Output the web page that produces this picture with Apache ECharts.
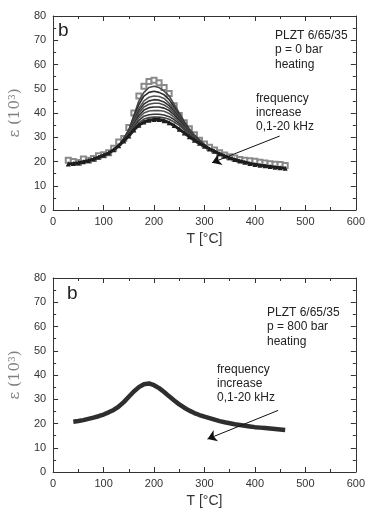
<!DOCTYPE html>
<html>
<head>
<meta charset="utf-8">
<script src="https://cdn.jsdelivr.net/npm/echarts@6/dist/echarts.min.js"></script>
<style>
  html, body { margin: 0; padding: 0; background: #fff; }
  #main { width: 368px; height: 513px; }
</style>
</head>
<body>
<div id="main"></div>
<script>
// temperatures (°C)
var tTop = [30,40,50,60,70,80,90,100,110,120,130,140,150,160,170,180,190,200,210,220,
  230,240,250,260,270,280,290,300,310,320,330,340,350,360,370,380,390,400,410,420,430,440,450,460];
var tBottom = [40,50,60,70,80,90,100,110,120,130,140,150,160,170,180,190,200,210,220,
  230,240,250,260,270,280,290,300,310,320,330,340,350,360,370,380,390,400,410,420,430,440,450,460];

// p = 0 bar, 0.1 kHz (open squares)
var epsSquares = [20.5,20,19.6,21,20.5,21.2,22.4,22.8,23.6,25.5,
  28,29.5,34,40,47,51,53,53.5,52.5,50.5,
  48,43,39,36,33.5,31,28.8,27.2,25.9,24.7,
  23.6,22.7,22,21.4,20.8,20.5,20.3,20.1,19.7,19.4,
  19.1,18.9,18.8,18.3];

// p = 0 bar, higher frequencies: common wings (30-130, 310-460) and peak part (140-300)
var lowWing = [19,19.2,19.5,19.9,20.4,21,21.8,22.6,23.5,24.8,26.5];
var highWing = [25.2,24.2,23.2,22.3,21.5,20.8,20.2,19.7,19.2,18.8,18.5,18.2,17.9,17.6,17.4,17.2];
var peakCurves = [
  [29.5,33,39,45,48.5,50.5,51,50.5,49,47,43.5,40,36.5,33.5,31,29,27],
  [29.5,33,38.5,43.5,47,48.5,49,48.5,47.5,45.5,42.5,39,36,33,30.5,28.7,27],
  [29.3,32.5,37.5,42,45,46.5,47,46.8,46,44,41.5,38.5,35.5,32.8,30.5,28.6,26.9],
  [29.2,32.3,37,41,43.7,45,45.5,45.3,44.5,43,40.7,38,35.2,32.5,30.3,28.5,26.8],
  [29,32,36.5,40,42.5,43.6,44,44,43.3,42,40,37.5,34.8,32.3,30.2,28.4,26.8],
  [29,31.8,35.5,39,41.2,42.2,42.5,42.5,42,41,39.2,37,34.5,32,30,28.3,26.7],
  [28.8,31.5,35,38,40,40.8,41,41,40.7,39.8,38.3,36.3,34,31.8,29.8,28.2,26.6],
  [28.7,31.2,34.3,37,38.7,39.3,39.5,39.5,39.2,38.5,37.3,35.6,33.5,31.5,29.6,28,26.5],
  [28.6,31,33.8,36,37.5,38.1,38.3,38.3,38,37.4,36.3,34.9,33,31.2,29.4,27.9,26.4],
  [28.5,30.5,33,35,36.3,37,37.3,37.3,36.8,36,34.8,33.3,31.8,30.2,28.8,27.5,26.3]
];

// p = 800 bar
var epsBottom = [20.7,21,21.4,21.9,22.4,23,23.7,24.6,25.6,27,
  28.8,31,33.2,35,36.2,36.5,35.8,34.6,33,31.2,
  29.5,27.9,26.5,25.3,24.3,23.5,22.8,22.2,21.6,21,
  20.5,20.1,19.7,19.4,19.1,18.8,18.5,18.3,18.1,17.9,
  17.7,17.5,17.3];

var xTicks = [0, 100, 200, 300, 400, 500, 600];
var yTicks = [0, 10, 20, 30, 40, 50, 60, 70, 80];

function pairs(xs, ys) {
  return xs.map(function (x, i) { return [x, ys[i]]; });
}

var font = "'Liberation Sans', Arial, sans-serif";
var serif = "'DejaVu Serif', 'Liberation Serif', serif";

function xAx(grid, pos) {
  var main = pos === 'bottom';
  return {
    gridIndex: grid, type: 'value', position: pos,
    min: xTicks[0], max: xTicks[xTicks.length - 1], interval: 100,
    axisLine: { show: true, onZero: false, lineStyle: { color: '#333', width: 1 } },
    axisTick: { show: true, inside: true, length: 5, lineStyle: { color: '#333' } },
    minorTick: { show: true, splitNumber: 2, length: 3, lineStyle: { color: '#333' } },
    splitLine: { show: false },
    axisLabel: { show: main, color: '#333', fontSize: 11, fontFamily: font, margin: 6 },
    name: main ? 'T [°C]' : '',
    nameLocation: 'middle', nameGap: 22,
    nameTextStyle: { color: '#333', fontSize: 14, fontFamily: font }
  };
}

function yAx(grid, pos) {
  var main = pos === 'left';
  return {
    gridIndex: grid, type: 'value', position: pos,
    min: yTicks[0], max: yTicks[yTicks.length - 1], interval: 10,
    axisLine: { show: true, onZero: false, lineStyle: { color: '#333', width: 1 } },
    axisTick: { show: true, inside: true, length: 5, lineStyle: { color: '#333' } },
    minorTick: { show: true, splitNumber: 2, length: 3, lineStyle: { color: '#333' } },
    splitLine: { show: false },
    axisLabel: { show: main, color: '#333', fontSize: 11, fontFamily: font, margin: 7 },
    name: main ? 'ε (10{s|3})' : '',
    nameLocation: 'middle', nameGap: 23, nameRotate: 90,
    nameTextStyle: {
      color: '#808080', fontSize: 15, fontFamily: serif,
      rich: { s: { fontSize: 9, color: '#808080', verticalAlign: 'top', lineHeight: 15, fontFamily: serif } }
    }
  };
}

var series = [];
var shades = ['#4a4a4a', '#2e2e2e', '#555', '#333', '#4d4d4d', '#2e2e2e', '#555', '#383838', '#474747'];
peakCurves.forEach(function (mid, k) {
  var last = k === peakCurves.length - 1;
  series.push({
    type: 'line', xAxisIndex: 0, yAxisIndex: 0,
    data: pairs(tTop, lowWing.concat(mid, highWing)),
    showSymbol: last, symbol: 'triangle', symbolSize: 5,
    itemStyle: { color: '#1e1e1e' },
    lineStyle: { color: last ? '#1e1e1e' : shades[k], width: last ? 3 : 1.6 },
    silent: true, z: last ? 4 : 3
  });
});
series.push({
  type: 'line', xAxisIndex: 0, yAxisIndex: 0,
  data: pairs(tTop, epsSquares),
  symbol: 'emptyRect', symbolSize: 5,
  itemStyle: { color: '#8a8a8a', borderWidth: 1 },
  lineStyle: { width: 0 },
  silent: true, z: 2,
  markLine: {
    silent: true, symbol: ['none', 'arrow'], symbolSize: 9,
    label: { show: false },
    lineStyle: { color: '#111', width: 1, type: 'solid' },
    data: [[{ coord: [449, 30.5] }, { coord: [315, 19.5] }]]
  }
});
series.push({
  type: 'line', xAxisIndex: 2, yAxisIndex: 2,
  data: pairs(tBottom, epsBottom),
  showSymbol: false,
  lineStyle: { color: '#2e2e2e', width: 4.5 },
  silent: true,
  markLine: {
    silent: true, symbol: ['none', 'arrow'], symbolSize: 9,
    label: { show: false },
    lineStyle: { color: '#111', width: 1, type: 'solid' },
    data: [[{ coord: [446, 25.4] }, { coord: [306, 13.6] }]]
  }
});

function txt(x, y, s, size, lh) {
  return {
    type: 'text', left: x, top: y, silent: true,
    style: { text: s, fill: '#222', font: size + 'px ' + font, lineHeight: lh || size }
  };
}

var option = {
  animation: false,
  backgroundColor: '#fff',
  grid: [
    { left: 47, right: 10, top: 16, height: 194 },
    { left: 47, right: 10, top: 278, height: 194 }
  ],
  xAxis: [xAx(0, 'bottom'), xAx(0, 'top'), xAx(1, 'bottom'), xAx(1, 'top')],
  yAxis: [yAx(0, 'left'), yAx(0, 'right'), yAx(1, 'left'), yAx(1, 'right')],
  series: series,
  graphic: [
    txt(58, 21, 'b', 19),
    txt(275, 28, 'PLZT 6/65/35\np = 0 bar\nheating', 12, 14.5),
    txt(256, 92, 'frequency\nincrease\n0,1-20 kHz', 12, 14),
    txt(67, 284, 'b', 19),
    txt(267, 305, 'PLZT 6/65/35\np = 800 bar\nheating', 12, 14.5),
    txt(217, 363, 'frequency\nincrease\n0,1-20 kHz', 12, 14)
  ]
};

var chart = echarts.init(document.getElementById('main'));
chart.setOption(option);
</script>
</body>
</html>
